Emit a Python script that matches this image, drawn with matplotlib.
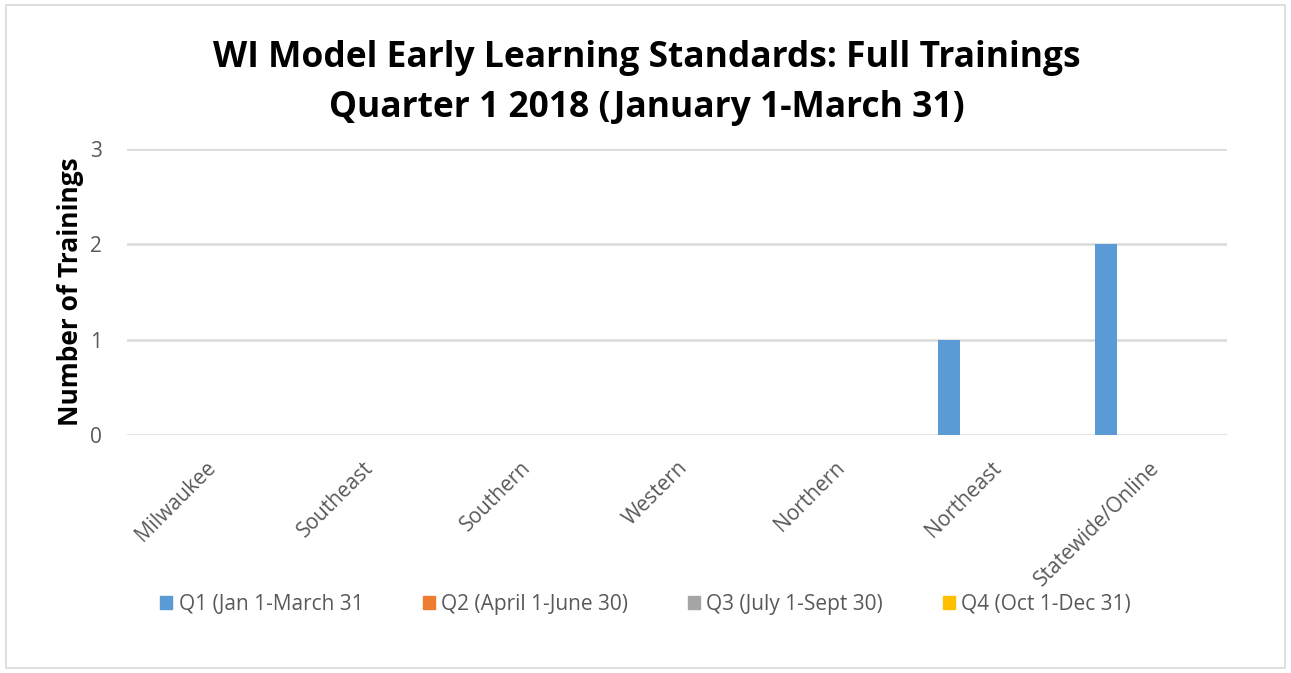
import matplotlib.pyplot as plt
import numpy as np
from matplotlib.patches import Rectangle, Patch

# data
regions = ['Milwaukee', 'Southeast', 'Southern', 'Western', 'Northern',
           'Northeast', 'Statewide/Online']
series_names = ['Q1 (Jan 1-March 31', 'Q2 (April 1-June 30)',
                'Q3 (July 1-Sept 30)', 'Q4 (Oct 1-Dec 31)']
q1 = [0, 0, 0, 0, 0, 1, 2]
q2 = [0, 0, 0, 0, 0, 0, 0]
q3 = [0, 0, 0, 0, 0, 0, 0]
q4 = [0, 0, 0, 0, 0, 0, 0]
colors = ['#5B9BD5', '#ED7D31', '#A5A5A5', '#FFC000']
yticks = [0, 1, 2, 3]

plt.rcParams['font.family'] = ['Open Sans', 'DejaVu Sans']
grey = '#595959'

fig = plt.figure(figsize=(12.91, 6.73), dpi=100)
fig.patches.append(Rectangle((0.005, 0.008), 0.99, 0.984, transform=fig.transFigure,
                             fill=False, edgecolor='#d9d9d9', lw=1.2))

ax = fig.add_axes([0.0984, 0.3536, 0.852, 0.425])
x = np.arange(len(regions))
w = 0.14
offs = [-0.268, -0.089, 0.089, 0.268]
for vals, off, c in zip([q1, q2, q3, q4], offs, colors):
    ax.bar(x + off, vals, width=w, color=c, zorder=3)

ax.set_xlim(-0.5, len(regions) - 0.5)
ax.set_ylim(0, 3)
ax.set_yticks(yticks)
ax.yaxis.grid(True, color='#d9d9d9', lw=1.8, zorder=0)
for s in ax.spines.values():
    s.set_visible(False)
ax.tick_params(axis='both', length=0, colors=grey, labelsize=15)
ax.tick_params(axis='y', pad=18)
ax.set_xticks(x)
ax.set_xticklabels(regions, rotation=45, ha='right', va='top', rotation_mode='anchor')
ax.tick_params(axis='x', pad=16)
ax.set_ylabel('Number of Trainings', fontsize=19, fontweight='bold', color='black', labelpad=4)

fig.text(0.501, 0.914, 'WI Model Early Learning Standards: Full Trainings',
         ha='center', va='center', fontsize=25.5, fontweight='bold')
fig.text(0.501, 0.84, 'Quarter 1 2018 (January 1-March 31)',
         ha='center', va='center', fontsize=25.5, fontweight='bold')

handles = [Patch(color=c) for c in colors]
fig.legend(handles, series_names, loc='center', bbox_to_anchor=(0.5, 0.102), ncol=4,
           frameon=False, fontsize=15, labelcolor=grey, handlelength=0.6,
           handleheight=0.6, handletextpad=0.3, columnspacing=2.85)

fig.savefig('out.png', dpi=100)
